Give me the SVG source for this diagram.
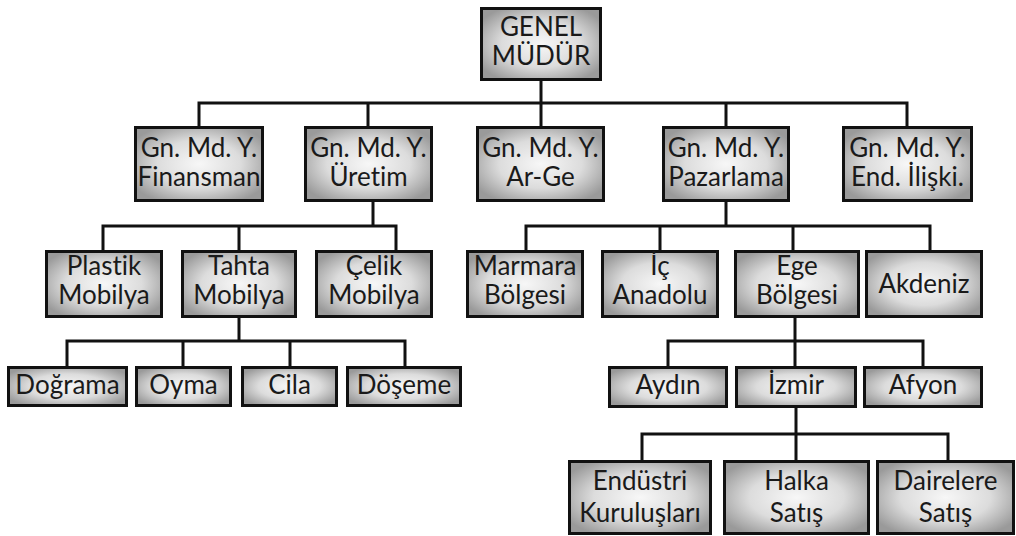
<svg xmlns="http://www.w3.org/2000/svg" width="1016" height="536" viewBox="0 0 1016 536">
<defs>
<radialGradient id="g" cx="0.5" cy="0.5" r="0.6">
<stop offset="0" stop-color="#f7f7f7"/>
<stop offset="0.55" stop-color="#dcdcdc"/>
<stop offset="1" stop-color="#9a9a9a"/>
</radialGradient>
</defs>
<style>
.b{fill:url(#g);stroke:#111;stroke-width:3}
.t{font-family:Lato,"Open Sans","Liberation Sans",sans-serif;font-size:26px;fill:#1a1a1a;text-anchor:middle;font-variant-ligatures:none}
.c{fill:none;stroke:#111;stroke-width:3;stroke-linejoin:miter}
</style>
<rect width="1016" height="536" fill="#fff"/>
<g id="connectors" class="c">
<path d="M541 81V103"/>
<path d="M199 126V103H907V126"/>
<path d="M368 103V126M541 103V126M726 103V126"/>
<path d="M373 202V226"/>
<path d="M103 250V226H396V250M239 226V250"/>
<path d="M726 202V226"/>
<path d="M526 250V226H930V250M660 226V250M793 226V250"/>
<path d="M239 318V341"/>
<path d="M67 366V341H405V366M183 341V366M290 341V366"/>
<path d="M795 318V341"/>
<path d="M668 366V341H923V366M795 341V366"/>
<path d="M796 407V434"/>
<path d="M642 460V434H948V460M796 434V460"/>
</g>
<g id="genel-mudur"><rect class="b" x="481.5" y="8.5" width="119" height="71"/><text class="t" x="541" y="36">GENEL</text><text class="t" x="541" y="65">MÜDÜR</text></g>
<g id="finansman"><rect class="b" x="135.5" y="127.5" width="127" height="73"/><text class="t" x="199" y="157">Gn. Md. Y.</text><text class="t" x="199" y="186">Finansman</text></g>
<g id="uretim"><rect class="b" x="305.5" y="127.5" width="126" height="73"/><text class="t" x="368.5" y="157">Gn. Md. Y.</text><text class="t" x="368.5" y="186">Üretim</text></g>
<g id="ar-ge"><rect class="b" x="477.5" y="127.5" width="126" height="73"/><text class="t" x="540.5" y="157">Gn. Md. Y.</text><text class="t" x="540.5" y="186">Ar-Ge</text></g>
<g id="pazarlama"><rect class="b" x="663.5" y="127.5" width="125" height="73"/><text class="t" x="726" y="157">Gn. Md. Y.</text><text class="t" x="726" y="186">Pazarlama</text></g>
<g id="end-iliski"><rect class="b" x="843.5" y="127.5" width="128" height="73"/><text class="t" x="907.5" y="157">Gn. Md. Y.</text><text class="t" x="907.5" y="186">End. İlişki.</text></g>
<g id="plastik"><rect class="b" x="46.5" y="251.5" width="115" height="65"/><text class="t" x="104" y="275">Plastik</text><text class="t" x="104" y="304">Mobilya</text></g>
<g id="tahta"><rect class="b" x="182.5" y="251.5" width="113" height="65"/><text class="t" x="239" y="275">Tahta</text><text class="t" x="239" y="304">Mobilya</text></g>
<g id="celik"><rect class="b" x="316.5" y="251.5" width="115" height="65"/><text class="t" x="374" y="275">Çelik</text><text class="t" x="374" y="304">Mobilya</text></g>
<g id="marmara"><rect class="b" x="467.5" y="251.5" width="115" height="65"/><text class="t" x="525" y="275">Marmara</text><text class="t" x="525" y="304">Bölgesi</text></g>
<g id="ic-anadolu"><rect class="b" x="602.5" y="251.5" width="115" height="65"/><text class="t" x="660" y="275">İç</text><text class="t" x="660" y="304">Anadolu</text></g>
<g id="ege"><rect class="b" x="735.5" y="251.5" width="123" height="65"/><text class="t" x="797" y="275">Ege</text><text class="t" x="797" y="304">Bölgesi</text></g>
<g id="akdeniz"><rect class="b" x="866.5" y="251.5" width="115" height="65"/><text class="t" x="924" y="293">Akdeniz</text></g>
<g id="dograma"><rect class="b" x="8.5" y="367.5" width="118" height="38"/><text class="t" x="67.5" y="394">Doğrama</text></g>
<g id="oyma"><rect class="b" x="136.5" y="367.5" width="94" height="38"/><text class="t" x="183.5" y="394">Oyma</text></g>
<g id="cila"><rect class="b" x="242.5" y="367.5" width="94" height="38"/><text class="t" x="289.5" y="394">Cila</text></g>
<g id="doseme"><rect class="b" x="347.5" y="367.5" width="113" height="38"/><text class="t" x="404" y="394">Döşeme</text></g>
<g id="aydin"><rect class="b" x="609.5" y="367.5" width="117" height="39"/><text class="t" x="668" y="394">Aydın</text></g>
<g id="izmir"><rect class="b" x="736.5" y="367.5" width="119" height="39"/><text class="t" x="796" y="394">İzmir</text></g>
<g id="afyon"><rect class="b" x="864.5" y="367.5" width="117" height="39"/><text class="t" x="923" y="394">Afyon</text></g>
<g id="endustri"><rect class="b" x="569.5" y="461.5" width="141" height="72"/><text class="t" x="640" y="490">Endüstri</text><text class="t" x="640" y="522">Kuruluşları</text></g>
<g id="halka"><rect class="b" x="724.5" y="461.5" width="144" height="72"/><text class="t" x="796.5" y="490">Halka</text><text class="t" x="796.5" y="522">Satış</text></g>
<g id="dairelere"><rect class="b" x="877.5" y="461.5" width="136" height="72"/><text class="t" x="945.5" y="490">Dairelere</text><text class="t" x="945.5" y="522">Satış</text></g>
</svg>
